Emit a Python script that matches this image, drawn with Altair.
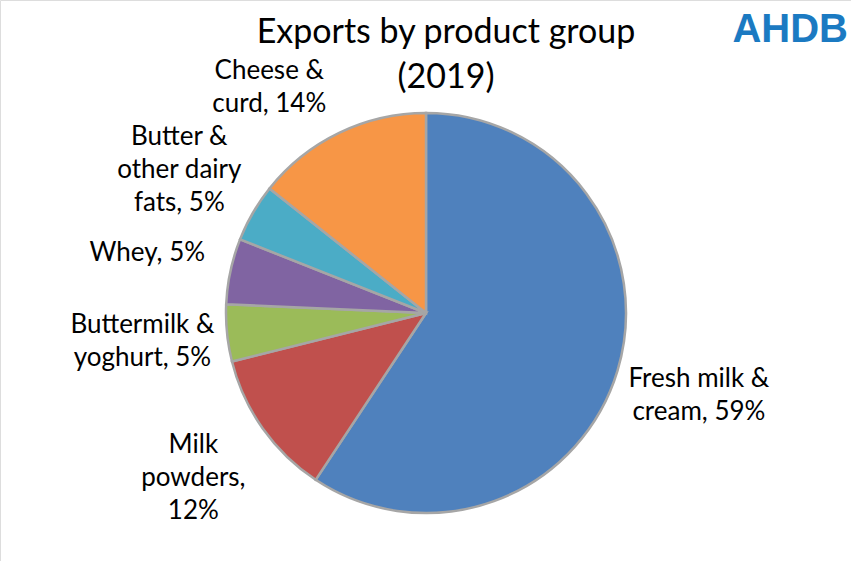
import altair as alt
import pandas as pd

categories = ["Fresh milk & cream", "Milk powders", "Buttermilk & yoghurt",
              "Whey", "Butter & other dairy fats", "Cheese & curd"]
values = [59.3, 11.8, 4.6, 5.3, 4.7, 14.3]
labels = ["Fresh milk &\ncream, 59%", "Milk\npowders,\n12%", "Buttermilk &\nyoghurt, 5%",
          "Whey, 5%", "Butter &\nother dairy\nfats, 5%", "Cheese &\ncurd, 14%"]
colors = ["#4F81BD", "#C0504D", "#9BBB59", "#8064A2", "#4BACC6", "#F79646"]

# layout tweak: the Cheese label was moved aside to clear the title
label_angle_nudge = {"Cheese & curd": -9}
label_radius_nudge = {"Cheese & curd": -10}

df = pd.DataFrame({"category": categories, "value": values, "label": labels,
                   "order": list(range(len(categories)))})
df["nudge"] = df["category"].map(label_angle_nudge).fillna(0)
df["rnudge"] = df["category"].map(label_radius_nudge).fillna(0)

cx, cy = 426, 313
R_PIE = 200
R_LAB = 285
LH = 33

pie = alt.Chart(df).mark_arc(outerRadius=R_PIE, stroke="#A6A6A6", strokeWidth=2.5).encode(
    theta=alt.Theta("value:Q", stack=True),
    order=alt.Order("order:Q"),
    x=alt.value(cx), y=alt.value(cy),
    color=alt.Color("category:N", scale=alt.Scale(domain=categories, range=colors), legend=None),
)

text = alt.Chart(df).transform_joinaggregate(
    total="sum(value)"
).transform_window(
    cum="sum(value)", sort=[alt.SortField("order")], frame=[None, 0]
).transform_calculate(
    ang="(datum.cum - datum.value/2)/datum.total*2*PI + datum.nudge*PI/180",
    nl="length(split(datum.label, '\\n'))",
    rr=f"{R_LAB} + datum.rnudge",
).transform_calculate(
    lx=f"{cx} + datum.rr*sin(datum.ang)",
    ly=f"{cy} - datum.rr*cos(datum.ang) - (datum.nl-1)*{LH}/2",
).mark_text(font="Lato", fontSize=26, lineBreak="\n", lineHeight=LH, color="#000000",
            align="center", baseline="middle").encode(
    x=alt.X("lx:Q", scale=None, axis=None),
    y=alt.Y("ly:Q", scale=None, axis=None),
    text="label:N",
)

title = alt.Chart(pd.DataFrame({"t": ["Exports by product group\n(2019)"]})).mark_text(
    font="Lato", fontSize=34, lineBreak="\n", lineHeight=45, align="center", baseline="middle",
    color="#000000"
).encode(text="t:N", x=alt.value(446), y=alt.value(33))

logo = alt.Chart(pd.DataFrame({"t": ["AHDB"]})).mark_text(
    font="Liberation Sans", fontSize=40, fontWeight="bold", align="right", baseline="middle",
    color="#1B7AC2"
).encode(text="t:N", x=alt.value(848), y=alt.value(30))

chart = alt.layer(pie, text, title, logo).properties(
    width=851, height=561, autosize=alt.AutoSizeParams(type="none"), padding=0
).configure_view(stroke=None).configure(background="white")

chart.save("out.html", embed_options={"renderer": "svg", "actions": False})
